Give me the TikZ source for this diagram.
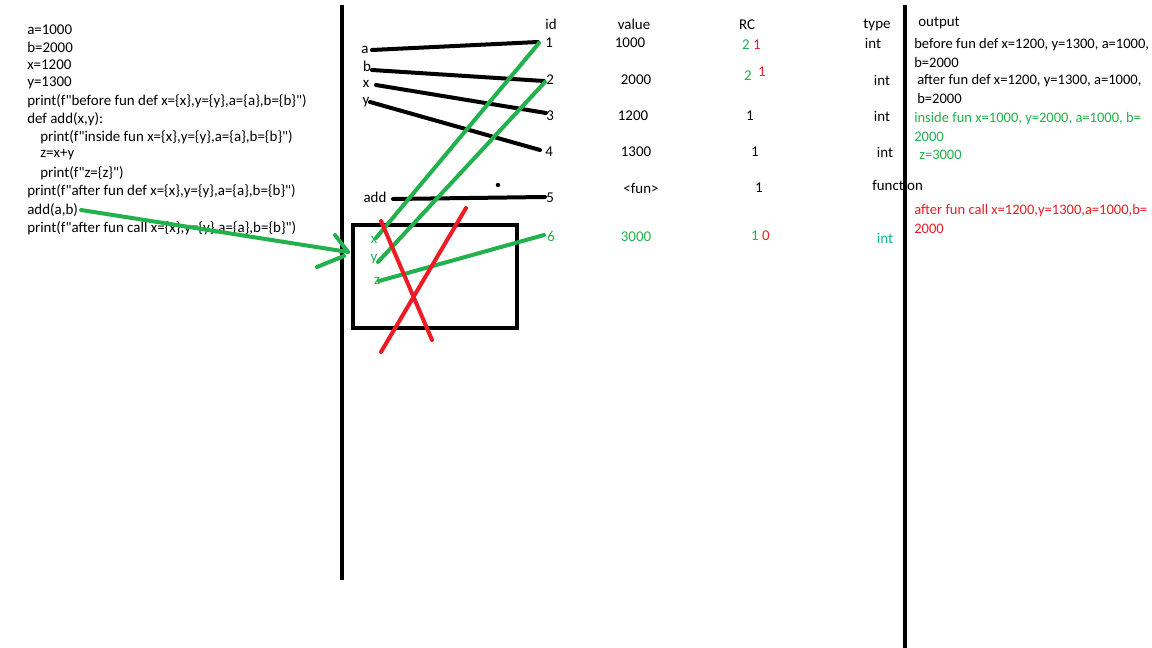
\documentclass[tikz,border=0pt]{standalone}
\usepackage{fontspec}
\setmainfont{Carlito}[Ligatures=TeXOff]
\definecolor{pgreen}{RGB}{34,177,76}
\definecolor{pred}{RGB}{237,28,36}
\definecolor{pteal}{RGB}{20,180,140}
\begin{document}
\begin{tikzpicture}[x=0.75pt,y=-0.75pt,
  txt/.style={inner sep=0pt,anchor=west,font=\fontsize{11.2}{13}\selectfont},
  otxt/.style={inner sep=0pt,anchor=west,font=\fontsize{10.9}{13}\selectfont},
  ctr/.style={inner sep=0pt,anchor=center,font=\fontsize{11.2}{13}\selectfont},
  thick line/.style={line width=3pt,line cap=round},
  gline/.style={thick line,draw=pgreen},
  rline/.style={thick line,draw=pred},
  bline/.style={thick line,draw=black}]
\useasboundingbox (0,0) rectangle (1152,648);
\fill[white] (0,0) rectangle (1152,648);
% separators
\coordinate (s1t) at (342,5); \coordinate (s1b) at (342,580);
\coordinate (s2t) at (905,5); \coordinate (s2b) at (905,648);
% code
\node[txt] (c1) at (27,30) {a=1000};
\node[txt] (c2) at (27,47) {b=2000};
\node[txt] (c3) at (27,65) {x=1200};
\node[txt] (c4) at (27,83) {y=1300};
\node[txt] (c5) at (27,101) {print(f"before fun def x=\{x\},y=\{y\},a=\{a\},b=\{b\}")};
\node[txt] (c6) at (27,119) {def add(x,y):};
\node[txt] (c7) at (40,137) {print(f"inside fun x=\{x\},y=\{y\},a=\{a\},b=\{b\}")};
\node[txt] (c8) at (40,155) {z=x+y};
\node[txt] (c9) at (40,173) {print(f"z=\{z\}")};
\node[txt] (c10) at (27,191) {print(f"after fun def x=\{x\},y=\{y\},a=\{a\},b=\{b\}")};
\node[txt] (c11) at (27,210) {add(a,b)};
\node[txt] (c12) at (27,228) {print(f"after fun call x=\{x\},y=\{y\},a=\{a\},b=\{b\}")};
% headers
\node[ctr] (hid) at (551,24) {id};
\node[ctr] (hval) at (634,24) {value};
\node[ctr] (hrc) at (747,25) {RC};
\node[ctr] (htype) at (877,25) {type};
\node[ctr] (hout) at (939,23) {output};
% names
\node[ctr] (na) at (365,50) {a};
\node[ctr] (nb) at (367,66) {b};
\node[ctr] (nx) at (366,84) {x};
\node[ctr] (ny) at (366,102) {y};
\node[ctr] (nadd) at (375,197) {add};
\node[ctr,text=pgreen] (nx2) at (374,240) {x};
\node[ctr,text=pgreen] (ny2) at (374,259) {y};
\node[ctr,text=pgreen] (nz2) at (377,281) {z};
% ids
\node[txt] (i1) at (545,43) {1};
\node[txt] (i2) at (546,80) {2};
\node[txt] (i3) at (546,116) {3};
\node[txt] (i4) at (545,152) {4};
\node[txt] (i5) at (546,198) {5};
\node[txt,text=pgreen] (i6) at (547,237) {6};
% values
\node[ctr] (v1) at (630,43) {1000};
\node[ctr] (v2) at (636,80) {2000};
\node[ctr] (v3) at (633,116) {1200};
\node[ctr] (v4) at (636,152) {1300};
\node[ctr] (v5) at (641,188) {<fun>};
\node[ctr,text=pgreen] (v6) at (636,237) {3000};
% RC
\node[ctr,text=pgreen] (r1a) at (746,45) {2};
\node[ctr,text=pred] (r1b) at (757,45) {1};
\node[ctr,text=pgreen] (r2a) at (748,76) {2};
\node[ctr,text=pred] (r2b) at (762,72) {1};
\node[ctr] (r3) at (750,116) {1};
\node[ctr] (r4) at (755,152) {1};
\node[ctr] (r5) at (759,188) {1};
\node[ctr,text=pgreen] (r6a) at (755,236) {1};
\node[ctr,text=pred] (r6b) at (766,236) {0};
% types
\node[ctr] (t1) at (873,43) {int};
\node[ctr] (t2) at (882,80) {int};
\node[ctr] (t3) at (882,116) {int};
\node[ctr] (t4) at (885,152) {int};
\node[txt] (t5) at (872,185) {function};
\node[ctr,text=pteal] (t6) at (885,238) {int};
% output
\node[otxt] (o1) at (914,45) {before fun def x=1200, y=1300, a=1000,};
\node[otxt] (o2) at (914,63) {b=2000};
\node[otxt] (o3) at (917,81) {after fun def x=1200, y=1300, a=1000,};
\node[otxt] (o4) at (917,99) {b=2000};
\node[otxt,text=pgreen] (o5) at (914,119) {inside fun x=1000, y=2000, a=1000, b=};
\node[otxt,text=pgreen] (o6) at (914,137) {2000};
\node[otxt,text=pgreen] (o7) at (919,155) {z=3000};
\node[otxt,text=pred] (o8) at (914,211) {after fun call x=1200,y=1300,a=1000,b=};
\node[otxt,text=pred] (o9) at (914,229) {2000};
% separators drawn over text
\draw[line width=3pt] (s1t) -- (s1b);
\draw[line width=3pt] (s2t) -- (s2b);
% black reference lines
\coordinate (la) at (372,50); \coordinate (ea) at (538,42);
\coordinate (lb) at (372,70); \coordinate (eb) at (544,81);
\coordinate (lx) at (376,85); \coordinate (ex) at (546,113);
\coordinate (ly) at (370,102); \coordinate (ey) at (540,150);
\coordinate (ladd) at (393,199); \coordinate (eadd) at (545,197);
\draw[bline] (la) -- (ea);
\draw[bline] (lb) -- (eb);
\draw[bline] (lx) -- (ex);
\draw[bline] (ly) -- (ey);
\draw[bline] (ladd) -- (eadd);
\fill (498,185) circle (2.2);
% frame
\draw[line width=3pt] (353,225) rectangle (517,328);
% green lines
\coordinate (gx) at (376,238); \coordinate (g1) at (539,43);
\coordinate (gy) at (378,262); \coordinate (g2) at (545,82);
\coordinate (gz) at (379,281); \coordinate (g6) at (544,235);
\draw[gline] (gx) -- (g1);
\draw[gline] (gy) -- (g2);
\draw[gline] (gz) -- (g6);
% call arrow
\coordinate (cs) at (81,210); \coordinate (ce) at (348,252);
\coordinate (h1) at (317,267); \coordinate (h1e) at (344,256);
\coordinate (h2) at (335,235);
\draw[gline] (cs) -- (ce);
\draw[gline] (h1) -- (h1e);
\draw[gline] (h2) -- (ce);
% red cross
\coordinate (x1s) at (381,221); \coordinate (x1e) at (432,340);
\coordinate (x2s) at (466,208); \coordinate (x2e) at (381,352);
\draw[rline] (x1s) -- (x1e);
\draw[rline] (x2s) -- (x2e);
\end{tikzpicture}
\end{document}
